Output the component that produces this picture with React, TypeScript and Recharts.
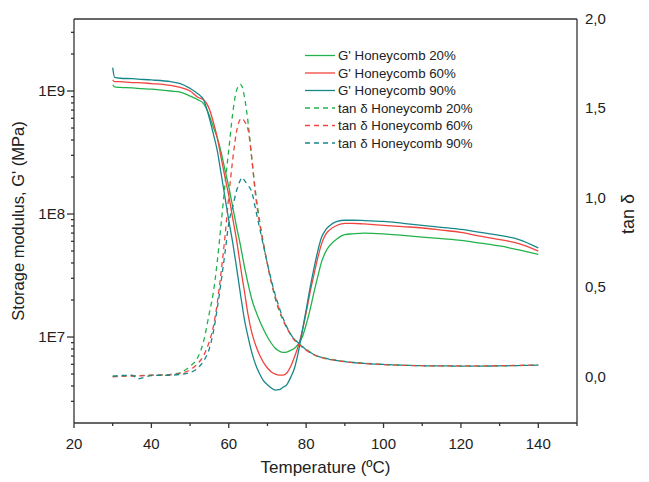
import { LineChart, Line, XAxis, YAxis, ReferenceLine } from 'recharts';

const temperature = [
  30, 30.5, 32, 35, 36.5, 40, 45, 47.5, 50, 52, 53.5, 55, 56, 57, 58, 59, 60, 61, 62, 63,
  63.5, 64, 65, 66, 67, 68, 69, 70, 71, 72, 73, 74, 75, 76, 77, 78, 79, 80, 81, 82,
  83, 84, 85, 86, 88, 90, 92, 95, 100, 105, 110, 115, 120, 125, 130, 135, 140,
];

// storage modulus G'
const gHoneycomb20 = [
  1.12e9, 1.08e9, 1.07e9, 1.06e9, 1.05e9, 1.035e9, 1.0e9, 9.8e8, 9.1e8, 8.5e8, 7.9e8, 6.3e8, 5.1e8, 4.2e8, 3.2e8, 2.3e8, 1.66e8, 1.15e8, 7.9e7, 5.6e7,
  4.6e7, 3.8e7, 2.7e7, 2.0e7, 1.62e7, 1.35e7, 1.15e7, 1.0e7, 8.9e6, 8.1e6, 7.7e6, 7.5e6, 7.55e6, 7.8e6, 8.1e6, 8.8e6, 1.0e7, 1.26e7, 1.66e7, 2.3e7,
  3.1e7, 4.1e7, 4.9e7, 5.5e7, 6.3e7, 6.8e7, 6.9e7, 7.0e7, 6.9e7, 6.7e7, 6.5e7, 6.3e7, 6.1e7, 5.8e7, 5.5e7, 5.1e7, 4.7e7,
];
const gHoneycomb60 = [
  1.23e9, 1.19e9, 1.19e9, 1.17e9, 1.17e9, 1.15e9, 1.11e9, 1.07e9, 1.0e9, 8.9e8, 8.5e8, 7.1e8, 5.6e8, 4.2e8, 2.9e8, 2.0e8, 1.41e8, 9.3e7, 6.2e7, 3.8e7,
  3.0e7, 2.4e7, 1.51e7, 1.07e7, 8.5e6, 7.1e6, 6.2e6, 5.6e6, 5.2e6, 5.0e6, 4.9e6, 4.9e6, 5.1e6, 5.75e6, 6.9e6, 8.5e6, 1.12e7, 1.58e7, 2.3e7, 3.2e7,
  4.4e7, 5.75e7, 6.8e7, 7.4e7, 8.1e7, 8.4e7, 8.4e7, 8.3e7, 8.1e7, 7.9e7, 7.7e7, 7.4e7, 7.1e7, 6.6e7, 6.2e7, 5.75e7, 5.0e7,
];
const gHoneycomb90 = [
  1.55e9, 1.29e9, 1.27e9, 1.26e9, 1.25e9, 1.23e9, 1.19e9, 1.15e9, 1.05e9, 9.5e8, 8.5e8, 6.0e8, 4.5e8, 3.3e8, 2.15e8, 1.38e8, 8.9e7, 5.9e7, 3.7e7, 2.25e7,
  1.78e7, 1.41e7, 1.0e7, 7.4e6, 5.9e6, 5.0e6, 4.4e6, 4.1e6, 3.85e6, 3.7e6, 3.73e6, 3.9e6, 4.1e6, 4.7e6, 5.6e6, 7.6e6, 1.12e7, 1.66e7, 2.5e7, 3.6e7,
  5.0e7, 6.5e7, 7.4e7, 8.0e7, 8.7e7, 8.9e7, 8.9e7, 8.85e7, 8.7e7, 8.4e7, 8.1e7, 7.8e7, 7.5e7, 7.1e7, 6.7e7, 6.2e7, 5.3e7,
];

// tan delta
const tanHoneycomb20 = [
  0.005, 0.005, 0.005, 0.008, 0.008, 0.01, 0.015, 0.025, 0.06, 0.11, 0.2, 0.36, 0.47, 0.64, 0.85, 1.07, 1.27, 1.47, 1.6, 1.635,
  1.62, 1.57, 1.42, 1.21, 1.02, 0.87, 0.74, 0.63, 0.53, 0.44, 0.37, 0.32, 0.275, 0.24, 0.21, 0.19, 0.17, 0.155, 0.14, 0.125,
  0.115, 0.11, 0.105, 0.1, 0.093, 0.087, 0.082, 0.077, 0.07, 0.066, 0.063, 0.062, 0.061, 0.061, 0.062, 0.064, 0.066,
];
const tanHoneycomb60 = [
  0.0, 0.002, 0.005, 0.005, 0.006, 0.01, 0.012, 0.02, 0.04, 0.075, 0.12, 0.2, 0.28, 0.41, 0.58, 0.78, 1.01, 1.21, 1.37, 1.44,
  1.445, 1.43, 1.38, 1.21, 1.0, 0.855, 0.74, 0.63, 0.53, 0.45, 0.38, 0.32, 0.275, 0.235, 0.205, 0.185, 0.165, 0.15, 0.135, 0.125,
  0.115, 0.108, 0.103, 0.098, 0.091, 0.085, 0.08, 0.075, 0.069, 0.065, 0.063, 0.062, 0.062, 0.062, 0.063, 0.065, 0.067,
];
const tanHoneycomb90 = [
  0.005, 0.005, 0.008, 0.01, -0.01, 0.008, 0.01, 0.015, 0.025, 0.05, 0.09, 0.16, 0.25, 0.38, 0.53, 0.69, 0.86, 0.95, 1.04, 1.1,
  1.115, 1.1, 1.07, 1.03, 0.93, 0.83, 0.73, 0.63, 0.54, 0.46, 0.39, 0.33, 0.28, 0.24, 0.21, 0.19, 0.17, 0.152, 0.138, 0.126,
  0.116, 0.109, 0.104, 0.099, 0.092, 0.086, 0.081, 0.076, 0.07, 0.066, 0.063, 0.062, 0.061, 0.061, 0.062, 0.064, 0.066,
];

const xTicks = [20, 30, 40, 50, 60, 70, 80, 90, 100, 110, 120, 130, 140, 150];
const xLabels = [20, 40, 60, 80, 100, 120, 140];
const gTicks = [
  3e6, 4e6, 5e6, 6e6, 7e6, 8e6, 9e6, 1e7, 2e7, 3e7, 4e7, 5e7, 6e7, 7e7, 8e7, 9e7,
  1e8, 2e8, 3e8, 4e8, 5e8, 6e8, 7e8, 8e8, 9e8, 1e9, 2e9, 3e9,
];
const gLabels = ['1E7', '1E8', '1E9'];
const gMajor = [1e7, 1e8, 1e9];
const tanTicks = [0, 0.5, 1, 1.5, 2];

const legendNames = [
  "G' Honeycomb 20%",
  "G' Honeycomb 60%",
  "G' Honeycomb 90%",
  'tan \u03b4 Honeycomb 20%',
  'tan \u03b4 Honeycomb 60%',
  'tan \u03b4 Honeycomb 90%',
];

const C20 = '#22b24c';
const C60 = '#f0443c';
const C90 = '#17878a';
const AXIS = '#333333';
const FONT = '"Liberation Sans", Arial, sans-serif';

const rows = temperature.map((t, i) => ({
  t,
  g20: gHoneycomb20[i],
  g60: gHoneycomb60[i],
  g90: gHoneycomb90[i],
  tan20: tanHoneycomb20[i],
  tan60: tanHoneycomb60[i],
  tan90: tanHoneycomb90[i],
}));

const XTick = (props: any) => {
  const { x, y, payload } = props;
  const major = xLabels.includes(payload.value);
  return (
    <g>
      <line x1={x} x2={x} y1={y} y2={y + (major ? 5 : 3)} stroke={AXIS} strokeWidth={1.3} />
      {major && (
        <text x={x} y={y + 26} textAnchor="middle" fontSize={15} fontFamily={FONT} fill="#222">
          {payload.value}
        </text>
      )}
    </g>
  );
};

const GTick = (props: any) => {
  const { x, y, payload } = props;
  const idx = gMajor.findIndex((m) => Math.abs(m - payload.value) < m * 1e-6);
  const major = idx >= 0;
  return (
    <g>
      <line x1={x - (major ? 7 : 3)} x2={x} y1={y} y2={y} stroke={AXIS} strokeWidth={1.3} />
      {major && (
        <text x={x - 9} y={y + 5} textAnchor="end" fontSize={15} fontFamily={FONT} fill="#222">
          {gLabels[idx]}
        </text>
      )}
    </g>
  );
};

const TanTick = (props: any) => {
  const { x, y, payload } = props;
  return (
    <text x={x + 8} y={y + 5} textAnchor="start" fontSize={15} fontFamily={FONT} fill="#222">
      {payload.value.toFixed(1).replace('.', ',')}
    </text>
  );
};

const series = [
  { key: 'g20', axis: 'g', color: C20, dash: undefined },
  { key: 'g60', axis: 'g', color: C60, dash: undefined },
  { key: 'g90', axis: 'g', color: C90, dash: undefined },
  { key: 'tan20', axis: 'tan', color: C20, dash: '5 4' },
  { key: 'tan60', axis: 'tan', color: C60, dash: '5 4' },
  { key: 'tan90', axis: 'tan', color: C90, dash: '5 4' },
];

export default function App() {
  return (
    <div style={{ position: 'absolute', left: 0, top: 0, width: 649, height: 482, background: '#fff' }}>
      <LineChart width={649} height={482} data={rows} margin={{ top: 19, right: 0, bottom: 0, left: 0 }}>
        <XAxis
          dataKey="t"
          type="number"
          domain={[20, 150]}
          ticks={xTicks}
          interval={0}
          allowDataOverflow
          height={59}
          tickSize={0}
          tickMargin={0}
          tickLine={false}
          tick={XTick}
          stroke={AXIS}
          strokeWidth={1.3}
        />
        <YAxis
          yAxisId="g"
          type="number"
          scale="log"
          domain={[2e6, 3.85e9]}
          ticks={gTicks}
          interval={0}
          allowDataOverflow
          width={74}
          tickSize={0}
          tickMargin={0}
          tickLine={false}
          tick={GTick}
          stroke={AXIS}
          strokeWidth={1.3}
        />
        <YAxis
          yAxisId="tan"
          orientation="right"
          type="number"
          domain={[-0.257, 2]}
          ticks={tanTicks}
          interval={0}
          allowDataOverflow
          width={72}
          tickSize={0}
          tickMargin={0}
          tickLine={false}
          tick={TanTick}
          stroke={AXIS}
          strokeWidth={1.3}
        />
        <ReferenceLine yAxisId="tan" y={2} stroke={AXIS} strokeWidth={1.3} />
        {series.map((s) => (
          <Line
            key={s.key}
            yAxisId={s.axis}
            dataKey={s.key}
            type="monotone"
            stroke={s.color}
            strokeWidth={1.3}
            strokeDasharray={s.dash}
            dot={false}
            activeDot={false}
            isAnimationActive={false}
          />
        ))}
      </LineChart>
      <svg
        width={649}
        height={482}
        style={{ position: 'absolute', left: 0, top: 0, pointerEvents: 'none' }}
        fontFamily={FONT}
      >
        {legendNames.map((name, i) => {
          const y = 55.5 + i * 17.5;
          const s = series[i];
          return (
            <g key={name}>
              <line x1={305} x2={335} y1={y} y2={y} stroke={s.color} strokeWidth={1.3} strokeDasharray={s.dash} />
              <text x={338} y={y + 4.5} fontSize={13.3} fill="#222">
                {name}
              </text>
            </g>
          );
        })}
        <text
          transform="translate(24,221) rotate(-90)"
          textAnchor="middle"
          fontSize={16.5}
          fill="#222"
        >
          Storage modulus, G' (MPa)
        </text>
        <text x={325.5} y={473} textAnchor="middle" fontSize={17} fill="#222">
          Temperature (ºC)
        </text>
        <text transform="translate(634,214) rotate(-90)" textAnchor="middle" fontSize={18} fill="#222">
          tan δ
        </text>
      </svg>
    </div>
  );
}
